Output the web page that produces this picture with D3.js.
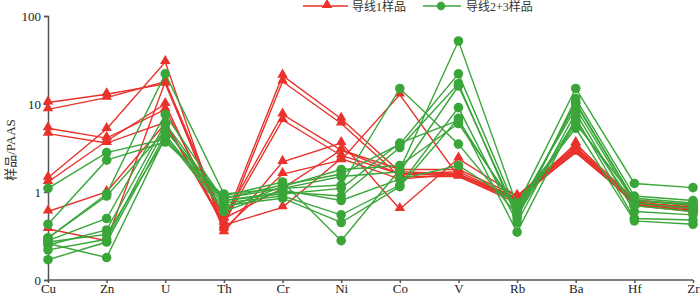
<!DOCTYPE html>
<html>
<head>
<meta charset="utf-8">
<style>
  body { margin: 0; background: #fff; }
  text { font-family: "Liberation Serif", "Noto Sans CJK SC", serif; }
</style>
</head>
<body>
<svg width="700" height="302"></svg>
<script src="https://d3js.org/d3.v7.min.js"></script>
<script>

var elements = ["Cu", "Zn", "U", "Th", "Cr", "Ni", "Co", "V", "Rb", "Ba", "Hf", "Zr"];
var yTicks = [0.1, 1, 10, 100];
var yTickLabels = ["0", "1", "10", "100"];

// 导线1样品 (red triangles)
var line1Samples = [
  [10.4, 12.9, 17, 0.45, 21, 6.8, 1.7, 1.6, 0.85, 3.2, 0.8, 0.72],
  [8.7, 11.8, 18, 0.40, 18, 6.0, 1.5, 1.5, 0.80, 3.0, 0.75, 0.68],
  [5.3, 4.1, 8.7, 0.50, 7.6, 3.0, 1.8, 1.8, 0.90, 3.5, 0.82, 0.70],
  [4.6, 3.6, 6.2, 0.45, 6.6, 2.6, 1.6, 1.7, 0.85, 2.8, 0.78, 0.65],
  [1.45, 5.2, 30, 0.35, 2.2, 3.6, 0.64, 2.4, 0.90, 3.3, 0.72, 0.62],
  [1.3, 3.8, 10, 0.38, 1.6, 2.3, 12.8, 1.5, 0.75, 3.6, 0.70, 0.60],
  [0.6, 1.0, 6.0, 0.42, 0.67, 2.4, 1.4, 1.6, 0.80, 2.9, 0.76, 0.66],
  [0.38, 0.28, 18, 0.50, 1.1, 3.0, 1.6, 1.55, 0.85, 3.1, 0.74, 0.64]
];

// 导线2+3样品 (green circles)
var line23Samples = [
  [1.1, 2.8, 4.0, 0.85, 1.2, 1.6, 3.5, 22, 0.60, 10, 0.80, 0.70],
  [0.43, 2.3, 3.7, 0.90, 1.3, 0.28, 1.8, 52, 0.70, 15, 1.25, 1.12],
  [0.30, 0.95, 22, 0.95, 1.1, 1.2, 15, 3.5, 0.55, 6.0, 0.85, 0.75],
  [0.28, 0.50, 7.6, 0.80, 1.0, 0.9, 3.2, 17, 0.50, 11.5, 0.90, 0.80],
  [0.25, 0.37, 6.0, 0.75, 0.9, 0.55, 1.2, 9.1, 0.45, 8.0, 0.60, 0.55],
  [0.22, 0.29, 5.3, 0.70, 0.85, 0.45, 1.15, 6.9, 0.35, 7.0, 0.50, 0.48],
  [0.17, 0.27, 4.5, 0.65, 1.15, 1.8, 2.0, 6.0, 0.65, 9.0, 0.75, 0.65],
  [0.26, 0.18, 4.2, 0.60, 1.05, 0.8, 1.4, 2.0, 0.75, 5.3, 0.47, 0.43],
  [0.30, 0.90, 5.0, 0.85, 1.1, 1.5, 1.7, 16, 0.55, 10.5, 0.80, 0.72],
  [0.27, 0.33, 4.0, 0.80, 0.95, 1.1, 3.6, 6.5, 0.60, 6.5, 0.70, 0.60]
];

var red = "#e8322b", green = "#3aa63a", axisColor = "#555";

var svg = d3.select("svg");

var x = d3.scalePoint().domain(elements).range([48, 693]);
var y = d3.scaleLog().domain([0.1, 100]).range([280, 16]);

var line = d3.line()
  .x(function(d, i) { return x(elements[i]); })
  .y(function(d) { return y(d); });

// axes
var xAxis = svg.append("g")
  .attr("transform", "translate(0,280)")
  .call(d3.axisBottom(x).tickSize(3).tickPadding(1));
xAxis.select(".domain").attr("d", "M48,0H693");

var yAxis = svg.append("g")
  .attr("transform", "translate(48,0)")
  .call(d3.axisLeft(y).tickValues(yTicks).tickSize(4).tickPadding(3)
    .tickFormat(function(d, i) { return yTickLabels[i]; }));

svg.selectAll(".domain, .tick line").attr("stroke", axisColor).attr("stroke-width", 1.5);
svg.selectAll(".tick text").attr("fill", "#222").style("font-size", "13px")
  .style("font-family", "'Liberation Serif', serif");

svg.append("text")
  .attr("transform", "translate(15,150) rotate(-90)")
  .attr("text-anchor", "middle")
  .attr("fill", "#333")
  .style("font-size", "13px")
  .text("样品/PAAS");

var tri = d3.symbol().type(d3.symbolTriangle).size(48);

function drawGroup(samples, color, marker) {
  var g = svg.append("g");
  g.selectAll("path.ln").data(samples).enter().append("path")
    .attr("class", "ln")
    .attr("d", line)
    .attr("fill", "none")
    .attr("stroke", color)
    .attr("stroke-width", 1.4);
  samples.forEach(function(s) {
    s.forEach(function(v, i) {
      if (marker == "tri") {
        g.append("path").attr("d", tri)
          .attr("transform", "translate(" + x(elements[i]) + "," + (y(v) - 1) + ")")
          .attr("fill", color);
      } else {
        g.append("circle").attr("cx", x(elements[i])).attr("cy", y(v)).attr("r", 4.8)
          .attr("fill", color);
      }
    });
  });
}

drawGroup(line1Samples, red, "tri");
drawGroup(line23Samples, green, "circle");

// legend
var lg = svg.append("g").attr("transform", "translate(0,6)");
lg.append("line").attr("x1", 303).attr("x2", 348).attr("stroke", red).attr("stroke-width", 1.4);
lg.append("path").attr("d", tri).attr("transform", "translate(327,-1)").attr("fill", red);
lg.append("text").attr("x", 352).attr("y", 5).attr("fill", "#333").style("font-size", "12px").text("导线1样品");
lg.append("line").attr("x1", 423).attr("x2", 461).attr("stroke", green).attr("stroke-width", 1.4);
lg.append("circle").attr("cx", 441).attr("r", 4.2).attr("fill", green);
lg.append("text").attr("x", 466).attr("y", 5).attr("fill", "#333").style("font-size", "12px").text("导线2+3样品");

</script>
</body>
</html>
